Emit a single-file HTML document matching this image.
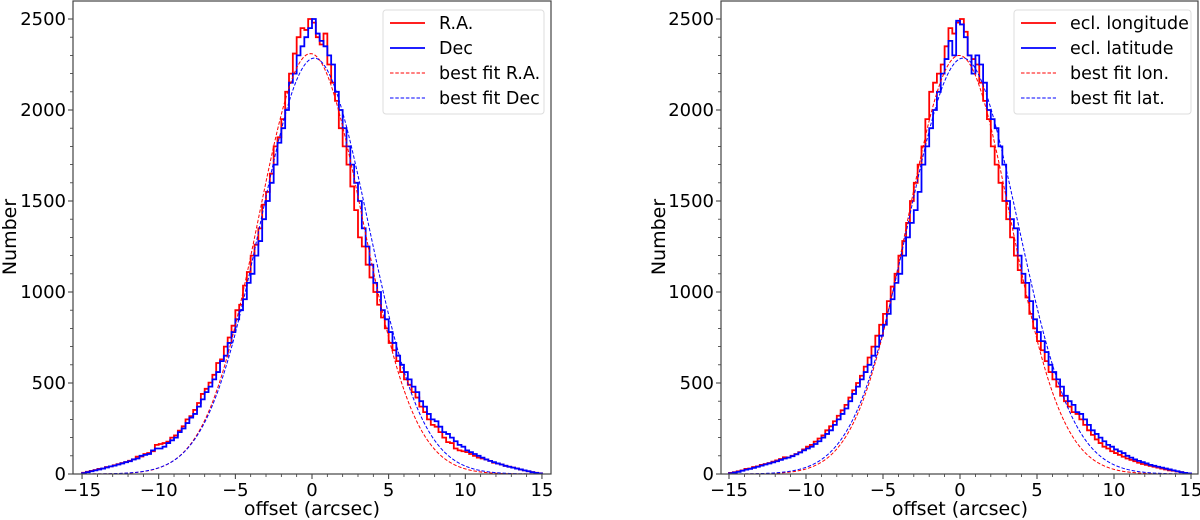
<!DOCTYPE html>
<html><head><meta charset="utf-8"><style>
body{margin:0;background:#fff;}
svg{display:block;font-family:"DejaVu Sans","Liberation Sans",sans-serif;}
</style></head><body>
<svg id="fig" width="1200" height="520" viewBox="0 0 1200 520"></svg>
<script>
const binStart=-15, binWidth=0.25;
const raCounts=[7,12,17,22,28,30,38,42,48,54, 60,66,73,81,95,96,110,115,125,160, 165,170,178,200,212,238,262,300,318,352,
390,440,468,502,545,610,630,700,750,815, 900,930,1035,1110,1200,1260,1350,1480,1550,1650,
1800,1850,1950,2100,2200,2310,2400,2450,2440,2500,
2480,2400,2360,2420,2250,2150,2050,1900,1800,1700, 1580,1450,1300,1250,1150,1080,1000,930,860,800,
720,680,620,560,520,490,450,420,370,340, 300,270,260,230,200,175,170,140,130,125,
120,110,100,90,85,80,72,62,58,52, 45,40,35,30,25,20,15,10,7,4];
const decCounts=[5,10,15,20,25,30,36,42,46,52, 58,65,70,80,85,100,105,110,130,140, 140,150,170,185,200,230,250,280,310,330,
370,410,450,480,520,560,620,650,720,780, 850,900,960,1050,1100,1200,1280,1400,1500,1600,
1700,1820,1900,2000,2150,2200,2300,2350,2400,2450,
2500,2420,2380,2350,2300,2250,2100,2000,1900,1800, 1700,1600,1500,1350,1250,1150,1050,1000,900,850,
780,720,650,600,560,520,480,450,400,370, 330,300,290,260,230,220,200,180,160,150,
130,120,110,100,90,80,72,65,58,52, 45,40,35,30,25,20,15,10,6,3];
const lonCounts=[6,10,15,20,28,30,38,42,50,55, 60,68,75,82,92,90,100,110,120,135, 150,160,178,195,212,240,262,290,320,350,
380,420,460,500,540,590,640,700,760,820, 880,950,1030,1100,1200,1280,1380,1500,1600,1700,
1800,1950,2100,2150,2200,2250,2350,2450,2420,2480,
2500,2430,2300,2280,2250,2150,2050,1950,1800,1700, 1600,1500,1400,1300,1200,1120,1050,970,880,800,
730,680,620,560,520,480,430,400,370,340, 330,300,270,240,215,190,170,150,140,125,
115,105,95,85,78,70,62,55,50,45, 40,35,30,25,20,18,14,10,6,3];
const latCounts=[4,8,12,18,24,28,34,40,46,52, 58,64,70,78,85,90,98,108,118,130, 140,150,165,180,200,220,240,270,300,330,
360,400,440,480,520,560,600,650,700,760, 820,880,960,1050,1100,1200,1300,1380,1450,1550,
1700,1800,1900,2000,2100,2200,2280,2380,2300,2490,
2470,2400,2300,2200,2300,2250,2150,2000,1950,1900, 1800,1700,1500,1400,1350,1200,1100,1050,950,850,
780,730,670,600,560,520,480,430,400,380, 340,330,300,270,240,220,200,180,160,150,
135,125,115,100,90,80,72,65,58,50, 45,40,35,30,25,20,15,10,6,3];
const fitAmp=[2310,2285,2300,2285];
const fitMu=[-0.1,0.15,-0.05,0.2];
const fitSigma=[3.4,3.5,3.35,3.55];
const xTicks=[-15,-10,-5,0,5,10,15];
const yTicks=[0,500,1000,1500,2000,2500];
const legendLeft=["R.A.","Dec","best fit R.A.","best fit Dec"];
const legendRight=["ecl. longitude","ecl. latitude","best fit lon.","best fit lat."];

const NS="http://www.w3.org/2000/svg";
const svg=document.getElementById('fig');
function mk(tag,attrs,parent){const e=document.createElementNS(NS,tag);for(const k in attrs)e.setAttribute(k,attrs[k]);(parent||svg).appendChild(e);return e;}

function panel(cfg){
  const g=mk('g',{});
  
  
  const X=v=>cfg.x0+v*cfg.sx, Y=v=>cfg.y0-v*cfg.sy;
  for(let v=-15;v<=15;v++){if(v%5===0)continue;mk('line',{x1:X(v),x2:X(v),y1:cfg.y0,y2:cfg.y0+3,stroke:'#333','stroke-width':0.8},g);}
  for(let v=100;v<=2500;v+=100){if(v%500===0)continue;mk('line',{x1:cfg.fl,x2:cfg.fl-3,y1:Y(v),y2:Y(v),stroke:'#333','stroke-width':0.8},g);}
  xTicks.forEach(v=>{
    const t=mk('line',{x1:X(v),x2:X(v),y1:cfg.y0,y2:cfg.y0+5,stroke:'#333','stroke-width':1},g);
    
    
    const l=mk('text',{x:X(v),y:cfg.y0+22,'text-anchor':'middle','font-size':18,fill:'#000'},g);
    l.textContent=v<0?'\u2212'+Math.abs(v):String(v);
    
    
  });
  yTicks.forEach(v=>{
    mk('line',{x1:cfg.fl,x2:cfg.fl-5,y1:Y(v),y2:Y(v),stroke:'#333','stroke-width':1},g);
    const l=mk('text',{x:cfg.fl-7,y:Y(v)+6,'text-anchor':'end','font-size':18,fill:'#000'},g);
    l.textContent=String(v);
    
    
  });
  const cols=['#ff0000','#0000ff'];
  [cfg.h1,cfg.h2].forEach((h,k)=>{
    let d='M'+X(binStart)+','+Y(0);
    h.forEach((c,i)=>{const a=binStart+i*binWidth;d+=' L'+X(a)+','+Y(c)+' L'+X(a+binWidth)+','+Y(c);});
    d+=' L'+X(binStart+h.length*binWidth)+','+Y(0);
    const p=mk('path',{d:d,fill:'none',stroke:cols[k],'stroke-width':1.8,'stroke-linejoin':'miter'},g);
    
    
  });
  [0,1].forEach(k=>{
    const idx=cfg.fi+k;let d='';
    for(let v=-15;v<=15.001;v+=0.1){const y=fitAmp[idx]*Math.exp(-Math.pow(v-fitMu[idx],2)/(2*fitSigma[idx]*fitSigma[idx]));d+=(d?' L':'M')+X(v).toFixed(2)+','+Y(y).toFixed(2);}
    const p=mk('path',{d:d,fill:'none',stroke:cols[k],'stroke-width':1,'stroke-dasharray':'3.5,1.8'},g);
    
    
  });
  mk('rect',{x:cfg.fl,y:1,width:cfg.fr-cfg.fl,height:cfg.y0-1,fill:'none',stroke:'#444','stroke-width':1.2},g);
  const xl=mk('text',{x:X(0),y:515,'text-anchor':'middle','font-size':19,fill:'#000'},g);
  xl.textContent='offset (arcsec)';
  
  
  const yl=mk('text',{x:0,y:0,'text-anchor':'middle','font-size':19,fill:'#000',transform:'translate('+cfg.ylx+',237) rotate(-90)'},g);
  yl.textContent='Number';
  
  
  const lg=mk('g',{},g);
  
  
  mk('rect',{x:cfg.lx,y:10,width:cfg.lw,height:104,rx:3,fill:'#fff',stroke:'#ddd','stroke-width':1},lg);
  cfg.labels.forEach((s,i)=>{
    const yy=23+i*25;
    mk('line',{x1:cfg.lx+7,x2:cfg.lx+42,y1:yy,y2:yy,stroke:cols[i%2],'stroke-width':i<2?1.8:1,'stroke-dasharray':i<2?'none':'3.5,1.8'},lg);
    const t=mk('text',{x:cfg.lx+56,y:yy+6,'font-size':17.5,fill:'#000'},lg);
    t.textContent=s;
    
    
  });
}
panel({name:'left-panel',x0:312,sx:15.33,y0:474,sy:0.182,fl:73,fr:551,ylx:16,h1:raCounts,h2:decCounts,fi:0,labels:legendLeft,lx:383,lw:161});
panel({name:'right-panel',x0:960,sx:15.4,y0:474,sy:0.182,fl:721,fr:1198,ylx:665,h1:lonCounts,h2:latCounts,fi:2,labels:legendRight,lx:1014,lw:177});
</script>
</body></html>
